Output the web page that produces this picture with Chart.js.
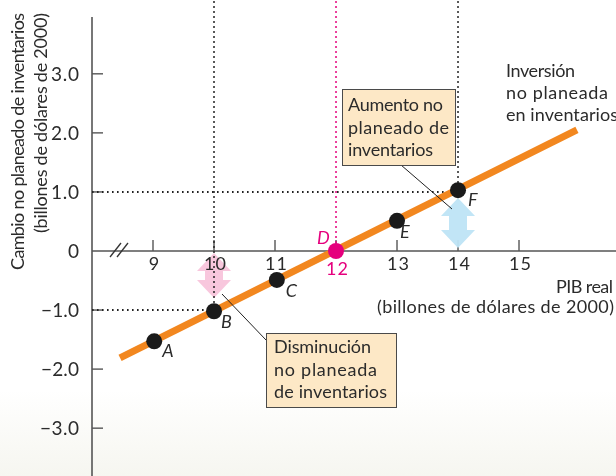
<!DOCTYPE html>
<html>
<head>
<meta charset="utf-8">
<script src="https://cdn.jsdelivr.net/npm/chart.js@4/dist/chart.umd.min.js"></script>
<style>
html,body{margin:0;padding:0;background:#fff;}
#wrap{width:616px;height:476px;}
</style>
</head>
<body>
<div id="wrap"><canvas id="c" width="616" height="476"></canvas></div>
<script>
// ---- data ----
const xTicks = [9, 10, 11, 12, 13, 14, 15];
const xTickLabels = ['9', '10', '11', '12', '13', '14', '15'];
const yTicks = [3, 2, 1, 0, -1, -2, -3];
const yTickLabels = ['3.0', '2.0', '1.0', '0', '\u22121.0', '\u22122.0', '\u22123.0'];

const pointNames = ['A', 'B', 'C', 'D', 'E', 'F'];
const pointX = [9.02, 10, 11.03, 12, 13, 14];
const pointY = [-1.53, -1.02, -0.49, 0, 0.51, 1.03];

const lineX = [8.46, 15.95];
const lineY = [-1.81, 2.05];

// dotted guide lines
const guideF_X = [8, 14];   const guideF_Y = [1, 1];
const guideB_X = [8, 10];   const guideB_Y = [-1, -1];
const guide10_X = [10, 10]; const guide10_Y = [4.4, -1];
const guide14_X = [14, 14]; const guide14_Y = [4.4, 1];
const guide12_X = [12, 12]; const guide12_Y = [4.4, 0];

// arrows (x, from y, to y)
const arrowDown = {x: 10, y0: 0, y1: -1};
const arrowUp = {x: 14, y0: 1, y1: 0};

const xMin = 8, xMax = 16.59, yMin = -3.81, yMax = 4.25;

const FONT = "Lato, 'Noto Sans', sans-serif";
const TXT = '#2b2b2b';
const ORANGE = '#f2871f';
const MAGENTA = '#e5007d';
const AXIS = '#555555';

const pts = (xs, ys) => xs.map((x, i) => ({x: x, y: ys[i]}));

function dotted(xs, ys, color) {
  return {
    type: 'line', data: pts(xs, ys), borderColor: color, borderWidth: 2,
    borderDash: [1.6, 3.4], pointRadius: 0, fill: false, order: 3, tension: 0
  };
}

// draw text stretched (by letter spacing) to a target width
function fitText(ctx, text, x, y, w, align) {
  ctx.letterSpacing = '0px';
  const m = ctx.measureText(text).width;
  let ls = (w - m) / Math.max(1, text.length - 1);
  ls = Math.max(-1, Math.min(2.5, ls));
  const real = m + ls * (text.length - 1);
  ctx.letterSpacing = ls + 'px';
  const prev = ctx.textAlign;
  ctx.textAlign = 'left';
  let x0 = x;
  if (align === 'right') x0 = x - real;
  else if (align === 'center') x0 = x - real / 2;
  ctx.fillText(text, x0, y);
  ctx.letterSpacing = '0px';
  ctx.textAlign = prev;
}

const bgPlugin = {
  id: 'bg',
  beforeDraw(chart) {
    const ctx = chart.ctx;
    ctx.save();
    const g = ctx.createLinearGradient(0, 390, 0, 476);
    g.addColorStop(0, '#ffffff');
    g.addColorStop(1, '#f6f6f0');
    ctx.fillStyle = g;
    ctx.fillRect(0, 0, chart.width, chart.height);
    ctx.restore();
  }
};

function drawArrow(ctx, cx, yTop, yBot, color) {
  const hw = 17, sw = 9, hh = 18;
  ctx.beginPath();
  ctx.moveTo(cx, yTop);
  ctx.lineTo(cx + hw, yTop + hh);
  ctx.lineTo(cx + sw, yTop + hh);
  ctx.lineTo(cx + sw, yBot - hh);
  ctx.lineTo(cx + hw, yBot - hh);
  ctx.lineTo(cx, yBot);
  ctx.lineTo(cx - hw, yBot - hh);
  ctx.lineTo(cx - sw, yBot - hh);
  ctx.lineTo(cx - sw, yTop + hh);
  ctx.lineTo(cx - hw, yTop + hh);
  ctx.closePath();
  ctx.fillStyle = color;
  ctx.fill();
}

const yLabelWidths = [28, 28, 28, 13, 38, 38, 39];

const axesPlugin = {
  id: 'axesDeco',
  beforeDatasetsDraw(chart) {
    const ctx = chart.ctx, xs = chart.scales.x, ys = chart.scales.y;
    const x0 = xs.getPixelForValue(xMin);
    const y0 = ys.getPixelForValue(0);
    ctx.save();
    ctx.strokeStyle = AXIS;
    ctx.lineWidth = 1.6;
    // y axis
    ctx.beginPath();
    ctx.moveTo(x0, 17); ctx.lineTo(x0, chart.height);
    ctx.stroke();
    // x axis
    ctx.beginPath();
    ctx.moveTo(x0, y0); ctx.lineTo(chart.width, y0);
    ctx.stroke();
    // y ticks (inward)
    ctx.lineWidth = 1.4;
    yTicks.forEach(v => {
      const p = ys.getPixelForValue(v);
      if (v === 0) return;
      ctx.beginPath(); ctx.moveTo(x0, p); ctx.lineTo(x0 + 11, p); ctx.stroke();
    });
    // x ticks (upward)
    xTicks.forEach(v => {
      const p = xs.getPixelForValue(v);
      ctx.beginPath(); ctx.moveTo(p, y0); ctx.lineTo(p, y0 - 11); ctx.stroke();
    });
    // axis break marks
    ctx.lineWidth = 1.3;
    ctx.strokeStyle = '#333';
    [[110, 257, 121, 243], [117, 257, 128, 243]].forEach(s => {
      ctx.beginPath(); ctx.moveTo(s[0], s[1]); ctx.lineTo(s[2], s[3]); ctx.stroke();
    });
    // arrows
    drawArrow(ctx, xs.getPixelForValue(arrowDown.x), ys.getPixelForValue(arrowDown.y0) + 2,
              ys.getPixelForValue(arrowDown.y1) - 12, 'rgba(248,196,219,0.95)');
    drawArrow(ctx, xs.getPixelForValue(arrowUp.x), ys.getPixelForValue(arrowUp.y0) + 6,
              ys.getPixelForValue(arrowUp.y1) - 3, 'rgba(190,228,246,0.95)');

    // y tick labels
    ctx.fillStyle = TXT;
    ctx.font = '19px ' + FONT;
    ctx.textBaseline = 'middle';
    yTicks.forEach((v, i) => {
      fitText(ctx, yTickLabels[i], 79, ys.getPixelForValue(v) + 1, yLabelWidths[i], 'right');
    });
    // x tick labels
    ctx.font = '18px ' + FONT;
    ctx.textBaseline = 'alphabetic';
    xTicks.forEach((v, i) => {
      ctx.fillStyle = v === 12 ? MAGENTA : TXT;
      const w = xTickLabels[i].length === 1 ? 10 : 22;
      fitText(ctx, xTickLabels[i], xs.getPixelForValue(v) + 1, y0 + (v === 12 ? 24 : 19), w, 'center');
    });
    ctx.restore();
  },
  afterDatasetsDraw(chart) {
    const ctx = chart.ctx;
    const meta = chart.getDatasetMeta(0);
    ctx.save();
    // point labels
    ctx.font = 'italic 18px ' + FONT;
    ctx.textBaseline = 'alphabetic';
    const offs = {A: [8, 16], B: [7, 17], C: [9, 17], D: [-19, -7], E: [3, 17], F: [10, 16]};
    meta.data.forEach((el, i) => {
      const n = pointNames[i];
      ctx.fillStyle = n === 'D' ? MAGENTA : TXT;
      ctx.textAlign = 'left';
      ctx.fillText(n, el.x + offs[n][0], el.y + offs[n][1]);
    });

    // leader lines
    ctx.strokeStyle = '#222';
    ctx.lineWidth = 1;
    ctx.beginPath(); ctx.moveTo(401, 165); ctx.lineTo(452, 209); ctx.stroke();
    ctx.beginPath(); ctx.moveTo(266, 340); ctx.lineTo(222, 294); ctx.stroke();

    // boxes
    function box(x, y, w, h, lines, widths, tx, ty) {
      ctx.fillStyle = '#fde8c6';
      ctx.fillRect(x, y, w, h);
      ctx.strokeStyle = '#4a4a4a';
      ctx.lineWidth = 1;
      ctx.strokeRect(x + 0.5, y + 0.5, w, h);
      ctx.fillStyle = TXT;
      ctx.font = '18px ' + FONT;
      lines.forEach((l, i) => fitText(ctx, l, tx, ty + i * 22.5, widths[i], 'left'));
    }
    box(342, 89, 113, 76, ['Aumento no', 'planeado de', 'inventarios'], [95, 101, 85], 348, 111);
    box(266, 333, 130, 74, ['Disminuci\u00f3n', 'no planeada', 'de inventarios'], [97, 103, 113], 274, 353);

    // curve label
    ctx.fillStyle = TXT;
    ctx.font = '18px ' + FONT;
    const cl = ['Inversi\u00f3n', 'no planeada', 'en inventarios'];
    const cw = [69, 102, 112];
    cl.forEach((l, i) => fitText(ctx, l, 506, 77 + i * 22, cw[i], 'left'));

    // x axis title
    fitText(ctx, 'PIB real', 613, 293, 57, 'right');
    fitText(ctx, '(billones de d\u00f3lares de 2000)', 614, 313, 237, 'right');

    // y axis title (rotated)
    ctx.textBaseline = 'middle';
    ctx.save();
    ctx.translate(18, 13);
    ctx.rotate(-Math.PI / 2);
    fitText(ctx, 'Cambio no planeado de inventarios', 0, 0, 257, 'right');
    ctx.restore();
    ctx.save();
    ctx.translate(41, 13);
    ctx.rotate(-Math.PI / 2);
    fitText(ctx, '(billones de d\u00f3lares de 2000)', 0, 0, 220, 'right');
    ctx.restore();

    ctx.restore();
  }
};

new Chart(document.getElementById('c'), {
  type: 'scatter',
  data: {
    datasets: [
      {
        type: 'scatter', label: 'Puntos', data: pts(pointX, pointY),
        pointRadius: 8, pointHoverRadius: 8, borderWidth: 0,
        pointBackgroundColor: pointNames.map(n => n === 'D' ? MAGENTA : '#1a1a1a'),
        pointBorderColor: pointNames.map(n => n === 'D' ? MAGENTA : '#1a1a1a'),
        order: 0
      },
      {
        type: 'line', label: 'Inversi\u00f3n no planeada en inventarios', data: pts(lineX, lineY),
        borderColor: ORANGE, borderWidth: 7, pointRadius: 0, fill: false, order: 1,
        borderCapStyle: 'butt'
      },
      dotted(guideF_X, guideF_Y, '#222'),
      dotted(guideB_X, guideB_Y, '#222'),
      dotted(guide10_X, guide10_Y, '#222'),
      dotted(guide14_X, guide14_Y, '#222'),
      dotted(guide12_X, guide12_Y, MAGENTA)
    ]
  },
  options: {
    responsive: false,
    animation: false,
    devicePixelRatio: 1,
    layout: {autoPadding: false, padding: {left: 92, right: 0, top: 0, bottom: 0}},
    plugins: {legend: {display: false}, tooltip: {enabled: false}, title: {display: false}},
    scales: {
      x: {type: 'linear', min: xMin, max: xMax, display: false},
      y: {type: 'linear', min: yMin, max: yMax, display: false}
    }
  },
  plugins: [bgPlugin, axesPlugin]
});
</script>
</body>
</html>
